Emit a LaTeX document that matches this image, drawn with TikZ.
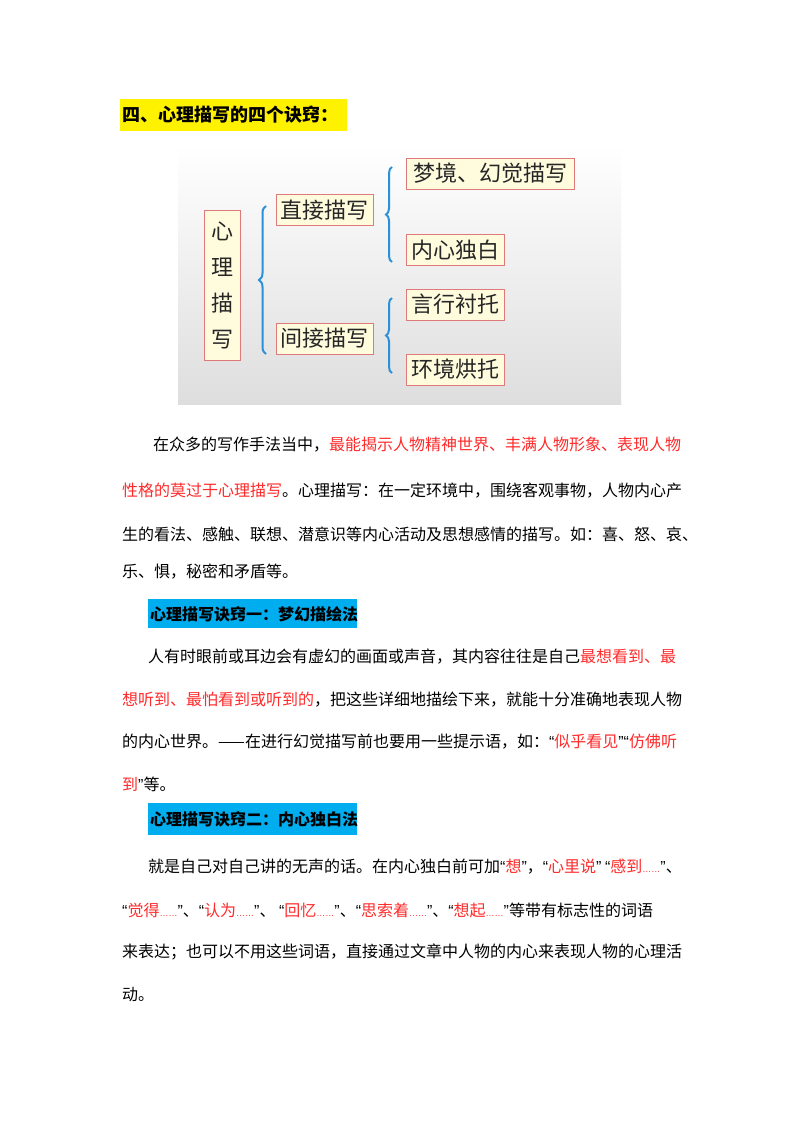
\documentclass[tikz,border=0pt]{standalone}
\usepackage{fontspec}
\setmainfont{Noto Sans CJK SC}
\newfontfamily\lat{Liberation Sans}
\usetikzlibrary{decorations.pathreplacing}
\definecolor{myred}{HTML}{FF2A2A}
\definecolor{bluebr}{HTML}{2A90DA}
\definecolor{boxfill}{HTML}{FFFBDD}
\definecolor{boxline}{HTML}{E07A7A}
\newcommand{\R}[1]{\textcolor{myred}{#1}}
\newcommand{\myLq}{{\lat “}}
\newcommand{\myRq}{{\lat ”}}
\newcommand{\myEl}{{\lat\fontsize{9}{9}\selectfont ……}}
\begin{document}
\begin{tikzpicture}[x=1pt,y=-1pt,
  para/.style={anchor=west,inner sep=0pt,font=\fontsize{16}{16}\selectfont},
  box/.style={draw=boxline,fill=boxfill,line width=1pt,inner sep=2pt,font=\fontsize{22}{22}\selectfont,text=black!85},
  br/.style={draw=bluebr,line width=2pt,decorate,decoration={brace,amplitude=7pt,mirror}},
  hl/.style={anchor=west,inner sep=0pt,font=\fontsize{16}{16}\selectfont\bfseries}]
\useasboundingbox (0,0) rectangle (800,1132);
\fill[white] (0,0) rectangle (800,1132);
% title
\fill[yellow] (120,99) rectangle (347,131);
\node[hl,font=\fontsize{18}{18}\selectfont\bfseries] (title) at (122,115) {四、心理描写的四个诀窍：};
% diagram background
\shade[top color=white,bottom color=black!13] (178,145) rectangle (621,404);
\node[box,minimum width=36pt,minimum height=150pt,text width=24pt,align=center,font=\fontsize{22}{36}\selectfont] (root) at (222,285) {心\\理\\描\\写};
\node[box,minimum width=97pt,minimum height=31pt] (zj) at (324.5,210) {直接描写};
\node[box,minimum width=97pt,minimum height=31pt] (jj) at (324.5,338.5) {间接描写};
\node[box,minimum width=168pt,minimum height=31pt] (mj) at (490,173.5) {梦境、幻觉描写};
\node[box,minimum width=98pt,minimum height=31pt] (nx) at (455,250) {内心独白};
\node[box,minimum width=98pt,minimum height=31pt] (yx) at (455,304.5) {言行衬托};
\node[box,minimum width=98pt,minimum height=31pt] (hj) at (455,369.5) {环境烘托};
\coordinate (b1t) at (266,206); \coordinate (b1b) at (266,354);
\coordinate (b2t) at (392,167); \coordinate (b2b) at (392,262);
\coordinate (b3t) at (392,298); \coordinate (b3b) at (392,373);
\draw[br] (b1t) -- (b1b);
\draw[br,decoration={amplitude=6pt}] (b2t) -- (b2b);
\draw[br,decoration={amplitude=6pt}] (b3t) -- (b3b);
% paragraph 1
\node[para] (p1) at (153,445) {在众多的写作手法当中，\R{最能揭示人物精神世界、丰满人物形象、表现人物}};
\node[para] (p2) at (122,491) {\R{性格的莫过于心理描写}。心理描写：在一定环境中，围绕客观事物，人物内心产};
\node[para] (p3) at (122,534) {生的看法、感触、联想、潜意识等内心活动及思想感情的描写。如：喜、怒、哀、};
\node[para] (p4) at (122,572) {乐、惧，秘密和矛盾等。};
% heading 1
\fill[cyan] (148,599) rectangle (357,628);
\node[hl] (h1) at (150,614) {心理描写诀窍一：梦幻描绘法};
\node[para] (q1) at (148,657) {人有时眼前或耳边会有虚幻的画面或声音，其内容往往是自己\R{最想看到、最}};
\node[para] (q2) at (122,700) {\R{想听到、最怕看到或听到的}，把这些详细地描绘下来，就能十分准确地表现人物};
\node[para] (q3) at (122,742) {的内心世界。——在进行幻觉描写前也要用一些提示语，如：\myLq\R{似乎看见}\myRq\myLq\R{仿佛听}};
\node[para] (q4) at (122,784) {\R{到}\myRq 等。};
% heading 2
\fill[cyan] (148,803) rectangle (357,835);
\node[hl] (h2) at (150,819) {心理描写诀窍二：内心独白法};
\node[para] (r1) at (148,867) {就是自己对自己讲的无声的话。在内心独白前可加\myLq\R{想}\myRq，\myLq\R{心里说}\myRq\ \myLq\R{感到\myEl}\myRq、};
\node[para] (r2) at (122,910) {\myLq\R{觉得\myEl}\myRq、\myLq\R{认为\myEl}\myRq、 \myLq\R{回忆\myEl}\myRq、\myLq\R{思索着\myEl}\myRq、\myLq\R{想起\myEl}\myRq 等带有标志性的词语};
\node[para] (r3) at (122,952) {来表达；也可以不用这些词语，直接通过文章中人物的内心来表现人物的心理活};
\node[para] (r4) at (122,995) {动。};
\end{tikzpicture}
\end{document}
